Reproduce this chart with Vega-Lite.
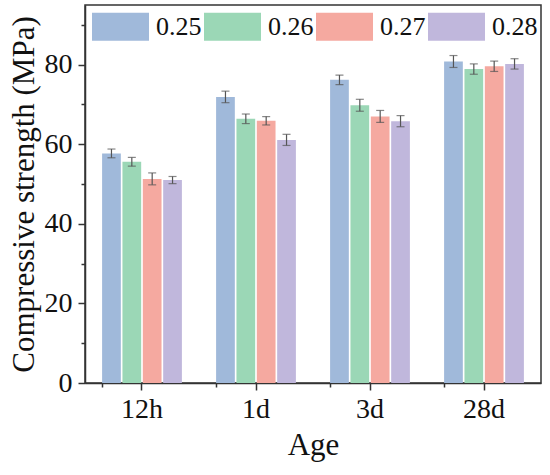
{
  "$schema": "https://vega.github.io/schema/vega-lite/v6.json",
  "width": 456,
  "height": 378,
  "autosize": {"type": "none"},
  "padding": {"left": 85, "top": 5, "right": 9, "bottom": 92},
  "background": "white",
  "config": {
    "view": {"stroke": "#333", "strokeWidth": 1.5},
    "font": "Times New Roman, Liberation Serif, DejaVu Serif, serif",
    "axis": {"labelFont": "Times New Roman, Liberation Serif, DejaVu Serif, serif", "titleFont": "Times New Roman, Liberation Serif, DejaVu Serif, serif"},
    "legend": {"labelFont": "Times New Roman, Liberation Serif, DejaVu Serif, serif", "titleFont": "Times New Roman, Liberation Serif, DejaVu Serif, serif"}
  },
  "data": {
    "values": [
      {"age": "12h", "wc": "0.25", "value": 57.7, "lo": 56.6, "hi": 58.8},
      {"age": "12h", "wc": "0.26", "value": 55.6, "lo": 54.5, "hi": 56.7},
      {"age": "12h", "wc": "0.27", "value": 51.3, "lo": 49.8, "hi": 52.8},
      {"age": "12h", "wc": "0.28", "value": 51.0, "lo": 50.1, "hi": 51.9},
      {"age": "1d", "wc": "0.25", "value": 71.9, "lo": 70.45, "hi": 73.35},
      {"age": "1d", "wc": "0.26", "value": 66.4, "lo": 65.2, "hi": 67.6},
      {"age": "1d", "wc": "0.27", "value": 65.9, "lo": 64.85, "hi": 66.95},
      {"age": "1d", "wc": "0.28", "value": 61.1, "lo": 59.7, "hi": 62.5},
      {"age": "3d", "wc": "0.25", "value": 76.2, "lo": 75.0, "hi": 77.4},
      {"age": "3d", "wc": "0.26", "value": 69.8, "lo": 68.3, "hi": 71.3},
      {"age": "3d", "wc": "0.27", "value": 67.0, "lo": 65.5, "hi": 68.5},
      {"age": "3d", "wc": "0.28", "value": 65.8, "lo": 64.4, "hi": 67.2},
      {"age": "28d", "wc": "0.25", "value": 80.8, "lo": 79.3, "hi": 82.3},
      {"age": "28d", "wc": "0.26", "value": 78.9, "lo": 77.6, "hi": 80.2},
      {"age": "28d", "wc": "0.27", "value": 79.6, "lo": 78.3, "hi": 80.9},
      {"age": "28d", "wc": "0.28", "value": 80.2, "lo": 78.9, "hi": 81.5}
    ]
  },
  "encoding": {
    "x": {
      "field": "age",
      "type": "nominal",
      "sort": ["12h", "1d", "3d", "28d"],
      "scale": {"paddingInner": 0.3, "paddingOuter": 0.15},
      "axis": null
    },
    "xOffset": {
      "field": "wc",
      "type": "nominal",
      "scale": {"paddingInner": 0.08, "paddingOuter": 0}
    }
  },
  "layer": [
    {
      "mark": {"type": "bar"},
      "encoding": {
        "x": {
          "field": "age",
          "type": "nominal",
          "sort": ["12h", "1d", "3d", "28d"],
          "scale": {"paddingInner": 0.3, "paddingOuter": 0.15},
          "axis": {
            "orient": "bottom",
            "title": "Age",
            "labelAngle": 0,
            "labelFontSize": 28,
            "titleFontSize": 31,
            "titleFontWeight": "normal",
            "labelColor": "#111",
            "titleColor": "#111",
            "domainColor": "#333",
            "domainWidth": 1.5,
            "tickColor": "#333",
            "tickWidth": 1.5,
            "tickSize": 7,
            "labelPadding": 5,
            "titlePadding": 7
          }
        },
        "y": {
          "field": "value",
          "type": "quantitative",
          "scale": {"domain": [0, 95], "nice": false},
          "axis": {
            "orient": "left",
            "title": "Compressive strength (MPa)",
            "values": [0, 20, 40, 60, 80],
            "grid": false,
            "labelFontSize": 28,
            "titleFontSize": 31,
            "titleFontWeight": "normal",
            "labelColor": "#111",
            "titleColor": "#111",
            "domainColor": "#333",
            "domainWidth": 1.5,
            "tickColor": "#333",
            "tickWidth": 1.5,
            "tickSize": 7,
            "labelPadding": 6,
            "titlePadding": 4
          }
        },
        "color": {
          "field": "wc",
          "type": "nominal",
          "scale": {
            "domain": ["0.25", "0.26", "0.27", "0.28"],
            "range": ["#A0B9DA", "#9BD7B6", "#F5A9A0", "#C0B7DC"]
          },
          "legend": {
            "title": null,
            "orient": "none",
            "direction": "horizontal",
            "legendX": 7,
            "legendY": -7,
            "padding": 0,
            "symbolType": "M-1,-0.49H1V0.49H-1Z",
            "symbolSize": 3249,
            "symbolStrokeWidth": 0,
            "symbolOpacity": 1,
            "labelFontSize": 26,
            "labelColor": "#111",
            "labelOffset": 7,
            "columnPadding": 2
          }
        }
      }
    },
    {
      "mark": {"type": "rule", "color": "#555", "strokeWidth": 1.2},
      "encoding": {
        "y": {"field": "lo", "type": "quantitative", "axis": null},
        "y2": {"field": "hi"}
      }
    },
    {
      "mark": {"type": "tick", "color": "#555", "thickness": 1.2, "size": 8},
      "encoding": {
        "y": {"field": "lo", "type": "quantitative", "axis": null}
      }
    },
    {
      "mark": {"type": "tick", "color": "#555", "thickness": 1.2, "size": 8},
      "encoding": {
        "y": {"field": "hi", "type": "quantitative", "axis": null}
      }
    },
    {
      "mark": {"type": "rule", "opacity": 0},
      "encoding": {
        "y": {
          "datum": 10,
          "type": "quantitative",
          "axis": {
            "orient": "left",
            "values": [10, 30, 50, 70, 90],
            "labels": false,
            "domain": false,
            "grid": false,
            "title": null,
            "tickColor": "#333",
            "tickWidth": 1.5,
            "tickSize": 4
          }
        },
        "x": {
          "field": "age",
          "type": "nominal",
          "sort": ["12h", "1d", "3d", "28d"],
          "axis": {
            "orient": "bottom",
            "bandPosition": 0,
            "labels": false,
            "domain": false,
            "title": null,
            "tickColor": "#333",
            "tickWidth": 1.5,
            "tickSize": 4
          }
        }
      }
    }
  ],
  "resolve": {"axis": {"x": "independent", "y": "independent"}}
}
